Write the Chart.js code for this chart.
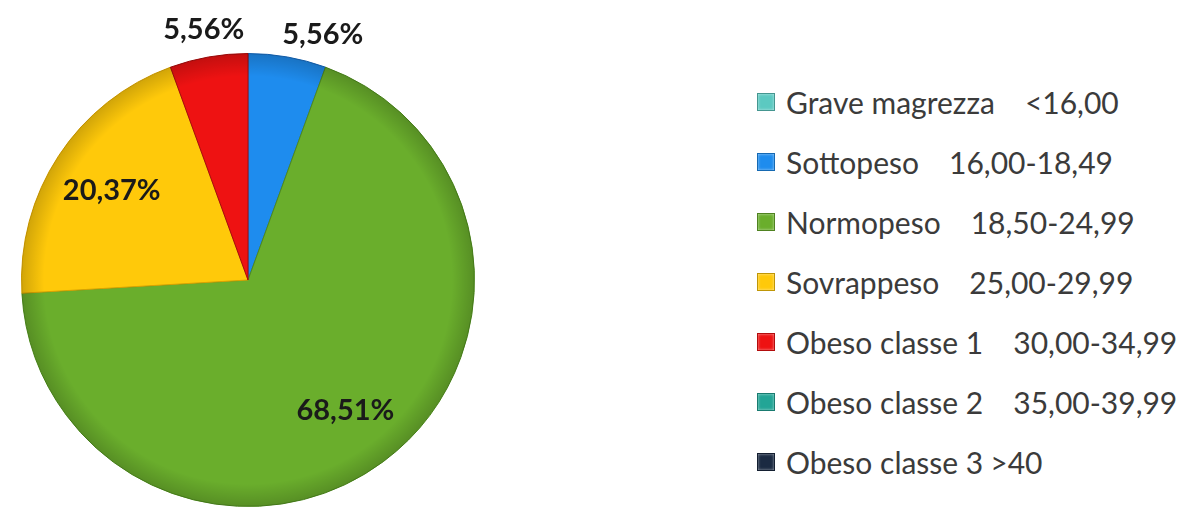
<!DOCTYPE html>
<html>
<head>
<meta charset="utf-8">
<script src="https://cdn.jsdelivr.net/npm/chart.js@4"></script>
<style>
  body { margin: 0; background: #fff; }
  #wrap { position: relative; width: 1182px; height: 511px; overflow: hidden; }
  #pieBox { position: absolute; left: 0; top: 0; width: 496px; height: 511px; }
  #legend { position: absolute; left: 757px; top: 72px; font-family: Lato, sans-serif; font-size: 30px; color: #3b3b3b; }
  .row { height: 60px; display: flex; align-items: center; white-space: nowrap; }
  .box { width: 18px; height: 18px; margin-right: 11px; box-sizing: border-box; box-shadow: inset 0 0 3px rgba(255,255,255,0.6); border: 1px solid rgba(0,0,0,0.25); }
  .range { margin-left: 30px; }
  .range.tight { margin-left: 7px; }
</style>
</head>
<body>
<div id="wrap">
  <div id="pieBox"><canvas id="bmiChart"></canvas></div>
  <div id="legend"></div>
</div>
<script>
// categories (BMI classes), their ranges and share of the sample in %
const classes = ['Grave magrezza', 'Sottopeso', 'Normopeso', 'Sovrappeso', 'Obeso classe 1', 'Obeso classe 2', 'Obeso classe 3'];
const ranges = ['<16,00', '16,00-18,49', '18,50-24,99', '25,00-29,99', '30,00-34,99', '35,00-39,99', '>40'];
const shares = [0, 5.56, 68.51, 20.37, 5.56, 0, 0];
const colors = ['#5cc9c1', '#1e8cee', '#6aae2c', '#ffc90a', '#ee1212', '#23a596', '#1b2a42'];
const edgeColors = ['#3a9a93', '#1565b8', '#4d8a1c', '#d9a200', '#a80a0a', '#17786d', '#0d1626'];

// legend, built from the same arrays
const legend = document.getElementById('legend');
classes.forEach((name, i) => {
    const row = document.createElement('div');
    row.className = 'row';
    const box = document.createElement('span');
    box.className = 'box';
    box.style.background = colors[i];
    const label = document.createElement('span');
    label.textContent = name;
    const range = document.createElement('span');
    range.className = i === classes.length - 1 ? 'range tight' : 'range';
    range.textContent = ranges[i];
    row.append(box, label, range);
    legend.appendChild(row);
});

// percent labels: inside for big slices, just outside the rim for small ones
const pctLabels = {
    id: 'pctLabels',
    afterDatasetsDraw(chart) {
        const ctx = chart.ctx;
        const meta = chart.getDatasetMeta(0);
        ctx.save();
        ctx.font = 'bold 29px Lato, sans-serif';
        ctx.fillStyle = '#1a1a1a';
        ctx.textAlign = 'center';
        ctx.textBaseline = 'middle';
        const items = [];
        meta.data.forEach((arc, i) => {
            const v = shares[i];
            if (!v) return;
            const text = v.toFixed(2).replace('.', ',') + '%';
            const mid = (arc.startAngle + arc.endAngle) / 2;
            const outside = v <= 10;
            const dist = outside ? arc.outerRadius + 28 : arc.outerRadius * 0.72;
            items.push({
                text, outside, cx: arc.x,
                x: arc.x + Math.cos(mid) * dist,
                y: arc.y + Math.sin(mid) * dist,
                w: ctx.measureText(text).width
            });
        });
        // keep neighbouring outside labels apart, pushing the right-hand one outwards
        const outs = items.filter(d => d.outside).sort((a, b) => a.x - b.x);
        for (let k = 1; k < outs.length; k++) {
            const a = outs[k - 1], b = outs[k];
            const gap = (b.x - b.w / 2) - (a.x + a.w / 2);
            if (Math.abs(a.y - b.y) < 30 && gap < 38) {
                if (b.x > b.cx) { b.x += 38 - gap; b.y += 5; } else { a.x -= 38 - gap; }
            }
        }
        items.forEach(d => ctx.fillText(d.text, d.x, d.y));
        ctx.restore();
    }
};

// soft darker rim to hint at the bevelled look
const rimShade = {
    id: 'rimShade',
    afterDatasetsDraw(chart) {
        const arc = chart.getDatasetMeta(0).data[0];
        if (!arc) return;
        const ctx = chart.ctx;
        const r = arc.outerRadius;
        ctx.save();
        const g = ctx.createRadialGradient(arc.x, arc.y, r * 0.9, arc.x, arc.y, r);
        g.addColorStop(0, 'rgba(0,0,0,0)');
        g.addColorStop(1, 'rgba(0,0,0,0.18)');
        ctx.beginPath();
        ctx.arc(arc.x, arc.y, r, 0, Math.PI * 2);
        ctx.fillStyle = g;
        ctx.fill();
        ctx.restore();
    }
};

new Chart(document.getElementById('bmiChart'), {
    type: 'pie',
    data: {
        labels: classes,
        datasets: [{
            data: shares,
            backgroundColor: colors,
            borderColor: edgeColors,
            borderWidth: shares.map(v => v ? 1 : 0)
        }]
    },
    options: {
        responsive: true,
        maintainAspectRatio: false,
        animation: false,
        layout: { padding: { top: 53, bottom: 4, left: 21, right: 21 } },
        plugins: { legend: { display: false }, tooltip: { enabled: false } }
    },
    plugins: [rimShade, pctLabels]
});
</script>
</body>
</html>
